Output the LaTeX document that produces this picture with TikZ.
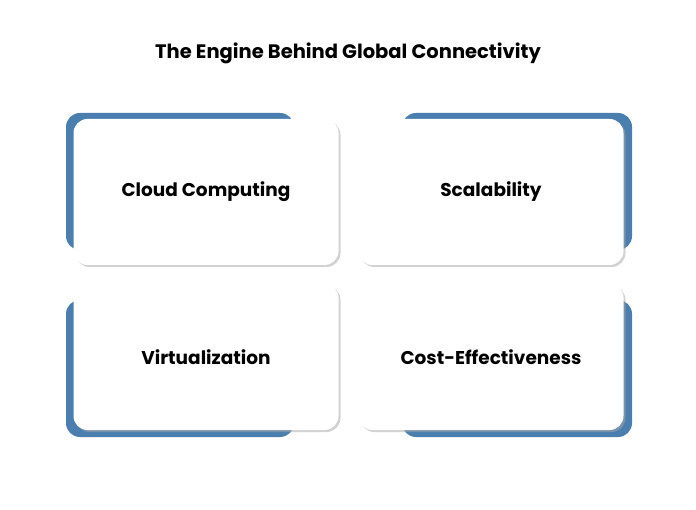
\documentclass[tikz,border=0pt]{standalone}
\usepackage{fontspec}
\setmainfont{Poppins}
\usetikzlibrary{shadows}
\definecolor{cardblue}{HTML}{4A7EAF}
\tikzset{
  backing/.style={fill=cardblue, rounded corners=14pt},
  card/.style={fill=white, rounded corners=14pt, minimum width=265pt, minimum height=146pt,
    font=\fontsize{18.5}{22}\selectfont\bfseries,
    drop shadow={shadow xshift=2pt, shadow yshift=-2pt, fill=black!35, opacity=.5}},
}
\begin{document}
\begin{tikzpicture}[x=1pt, y=-1pt]
  \useasboundingbox[fill=white] (0,0) rectangle (696,510);
  \node[font=\fontsize{19.5}{22}\selectfont\bfseries] (title) at (348,53) {The Engine Behind Global Connectivity};
  % blue backings
  \fill[backing] (66,113) rectangle (294,250);
  \fill[backing] (402,113) rectangle (632,250);
  \fill[backing] (66,300) rectangle (294,437);
  \fill[backing] (402,300) rectangle (632,437);
  % cards
  \node[card] (cloud) at (206,192) {Cloud Computing};
  \node[card] (scale) at (491,192) {Scalability};
  \node[card] (virt) at (206,357) {Virtualization};
  \node[card] (cost) at (491,357) {Cost-Effectiveness};
\end{tikzpicture}
\end{document}
